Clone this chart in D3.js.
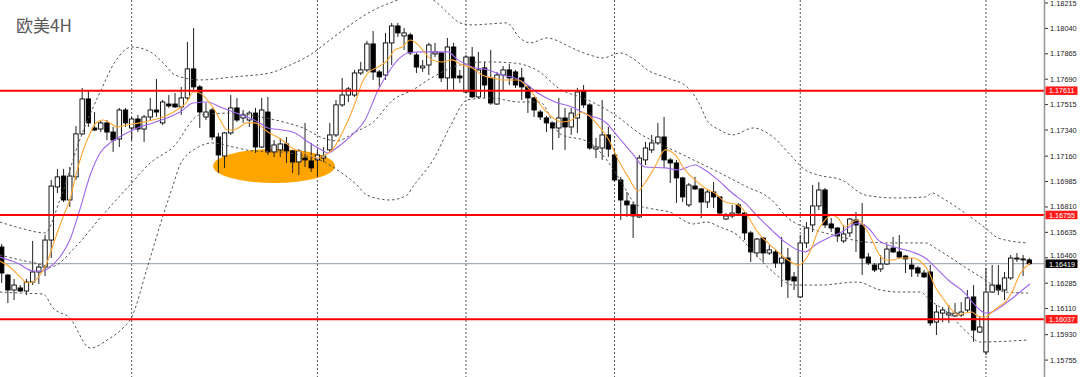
<!DOCTYPE html>
<html>
<head>
<meta charset="utf-8">
<script src="https://cdn.jsdelivr.net/npm/d3@7"></script>
<style>
  html, body { margin: 0; padding: 0; background: #fff; }
  svg { display: block; }
</style>
</head>
<body>
<svg id="chart"></svg>
<script>
// EURUSD 4H candles, bar 0 .. 166
const opens = [
  1.16534,1.16341,1.16238,1.16252,1.16231,1.16293,1.16362,1.16396,1.16582,1.16948,
  1.17023,1.16858,1.17017,1.17313,1.17554,1.17354,1.17347,1.17389,1.17326,1.17278,
  1.17478,1.17354,1.17416,1.17347,1.17430,1.17478,1.17389,1.17519,1.17519,1.17499,
  1.17561,1.17761,1.17637,1.17430,1.17478,1.17292,1.17161,1.17320,1.17492,1.17423,
  1.17409,1.17457,1.17223,1.17464,1.17189,1.17203,1.17244,1.17196,1.17120,1.17147,
  1.17127,1.17134,1.17147,1.17203,1.17306,1.17513,1.17581,1.17581,1.17733,1.17754,
  1.17933,1.17740,1.17719,1.17940,1.18057,1.17988,1.17995,1.17857,1.17768,1.17788,
  1.17864,1.17871,1.17699,1.17912,1.17712,1.17602,1.17843,1.17568,1.17768,1.17699,
  1.17519,1.17719,1.17754,1.17740,1.17699,1.17637,1.17561,1.17464,1.17423,1.17389,
  1.17354,1.17423,1.17361,1.17423,1.17609,1.17513,1.17209,1.17216,1.17306,1.17168,
  1.16996,1.16851,1.16824,1.16741,1.17134,1.17203,1.17251,1.17292,1.17134,1.17113,
  1.17010,1.16824,1.16954,1.16934,1.16844,1.16913,1.16879,1.16727,1.16748,1.16824,
  1.16768,1.16631,1.16493,1.16596,1.16493,1.16500,1.16424,1.16458,1.16328,1.16190,
  1.16562,1.16686,1.16817,1.16927,1.16693,1.16665,1.16576,1.16631,1.16720,1.16686,
  1.16465,1.16410,1.16383,1.16417,1.16527,1.16500,1.16472,1.16410,1.16390,1.16355,
  1.16362,1.16017,1.16079,1.16066,1.16059,1.16066,1.16100,1.16190,1.15948,1.15811,
  1.16224,1.16272,1.16238,1.16321,1.16452,1.16445,1.16445
];
const highs = [
  1.16555,1.16348,1.16314,1.16272,1.16314,1.16576,1.16417,1.16617,1.16996,1.17072,
  1.17072,1.17085,1.17368,1.17630,1.17616,1.17464,1.17402,1.17409,1.17361,1.17492,
  1.17492,1.17430,1.17444,1.17444,1.17561,1.17692,1.17547,1.17581,1.17595,1.17637,
  1.17947,1.18043,1.17650,1.17526,1.17492,1.17320,1.17326,1.17581,1.17561,1.17478,
  1.17471,1.17492,1.17561,1.17568,1.17271,1.17285,1.17292,1.17203,1.17209,1.17389,
  1.17251,1.17203,1.17223,1.17389,1.17547,1.17699,1.17637,1.17754,1.17809,1.17954,
  1.18022,1.17754,1.18009,1.18078,1.18078,1.18043,1.18009,1.17871,1.17823,1.17940,
  1.17940,1.17878,1.17974,1.17940,1.17754,1.17857,1.17912,1.17878,1.17809,1.17892,
  1.17740,1.17781,1.17795,1.17754,1.17768,1.17650,1.17568,1.17478,1.17437,1.17395,
  1.17561,1.17492,1.17492,1.17630,1.17650,1.17526,1.17285,1.17547,1.17361,1.17203,
  1.17017,1.16913,1.16844,1.17168,1.17258,1.17306,1.17389,1.17430,1.17147,1.17134,
  1.17017,1.16975,1.17017,1.16941,1.16927,1.16982,1.16879,1.16768,1.16824,1.16837,
  1.16775,1.16644,1.16596,1.16603,1.16548,1.16514,1.16603,1.16527,1.16362,1.16617,
  1.16706,1.16961,1.16982,1.16941,1.16734,1.16672,1.16686,1.16734,1.16775,1.16837,
  1.16493,1.16424,1.16479,1.16548,1.16603,1.16617,1.16479,1.16458,1.16403,1.16376,
  1.16410,1.16135,1.16121,1.16135,1.16148,1.16155,1.16238,1.16272,1.16052,1.16390,
  1.16410,1.16410,1.16362,1.16479,1.16493,1.16479,1.16458
];
const lows = [
  1.16286,1.16148,1.16169,1.16224,1.16203,1.16272,1.16279,1.16334,1.16458,1.16906,
  1.16844,1.16810,1.16996,1.17306,1.17361,1.17333,1.17326,1.17271,1.17189,1.17223,
  1.17361,1.17271,1.17326,1.17258,1.17409,1.17430,1.17375,1.17492,1.17492,1.17444,
  1.17547,1.17616,1.17354,1.17409,1.17271,1.17044,1.17079,1.17306,1.17395,1.17389,
  1.17361,1.17182,1.17216,1.17168,1.17154,1.17154,1.17113,1.17044,1.17030,1.17085,
  1.17051,1.17017,1.17120,1.17189,1.17292,1.17499,1.17533,1.17568,1.17719,1.17740,
  1.17685,1.17637,1.17685,1.17788,1.17981,1.17892,1.17857,1.17733,1.17740,1.17719,
  1.17843,1.17671,1.17616,1.17616,1.17664,1.17595,1.17561,1.17561,1.17561,1.17513,
  1.17513,1.17616,1.17650,1.17630,1.17547,1.17457,1.17430,1.17409,1.17326,1.17203,
  1.17285,1.17203,1.17306,1.17320,1.17492,1.17203,1.17147,1.17134,1.17154,1.16982,
  1.16720,1.16741,1.16596,1.16734,1.17099,1.17182,1.17237,1.17079,1.16975,1.16837,
  1.16844,1.16810,1.16927,1.16734,1.16803,1.16803,1.16755,1.16720,1.16734,1.16748,
  1.16582,1.16431,1.16465,1.16431,1.16479,1.16390,1.16259,1.16183,1.16238,1.16183,
  1.16527,1.16637,1.16789,1.16665,1.16637,1.16569,1.16562,1.16603,1.16500,1.16341,
  1.16410,1.16362,1.16362,1.16410,1.16493,1.16458,1.16355,1.16328,1.16328,1.16321,
  1.15990,1.15928,1.16017,1.16011,1.16052,1.16052,1.16086,1.15880,1.15942,1.15790,
  1.16217,1.16203,1.16169,1.16307,1.16431,1.16334,1.16410
];
const closes = [
  1.16355,1.16238,1.16272,1.16231,1.16293,1.16362,1.16396,1.16582,1.16954,1.17017,
  1.16858,1.17023,1.17313,1.17554,1.17389,1.17340,1.17389,1.17326,1.17271,1.17478,
  1.17389,1.17416,1.17347,1.17430,1.17478,1.17464,1.17533,1.17506,1.17499,1.17561,
  1.17761,1.17637,1.17464,1.17464,1.17292,1.17168,1.17320,1.17492,1.17409,1.17444,
  1.17457,1.17223,1.17478,1.17189,1.17237,1.17244,1.17196,1.17120,1.17196,1.17134,
  1.17079,1.17168,1.17161,1.17306,1.17513,1.17581,1.17623,1.17733,1.17754,1.17933,
  1.17740,1.17706,1.17940,1.18057,1.18009,1.18009,1.17871,1.17774,1.17781,1.17926,
  1.17878,1.17699,1.17912,1.17699,1.17699,1.17843,1.17568,1.17754,1.17650,1.17526,
  1.17719,1.17754,1.17699,1.17650,1.17637,1.17561,1.17478,1.17430,1.17389,1.17354,
  1.17423,1.17361,1.17457,1.17602,1.17513,1.17216,1.17223,1.17306,1.17209,1.16996,
  1.16858,1.16824,1.16748,1.17147,1.17216,1.17251,1.17292,1.17134,1.17113,1.17010,
  1.16879,1.16961,1.16934,1.16844,1.16913,1.16879,1.16768,1.16748,1.16768,1.16768,
  1.16631,1.16500,1.16589,1.16493,1.16514,1.16424,1.16458,1.16307,1.16300,1.16562,
  1.16665,1.16817,1.16927,1.16686,1.16665,1.16610,1.16624,1.16727,1.16686,1.16458,
  1.16424,1.16376,1.16417,1.16520,1.16500,1.16465,1.16452,1.16383,1.16355,1.16328,
  1.16011,1.16086,1.16100,1.16079,1.16079,1.16086,1.16183,1.15962,1.15983,1.16224,
  1.16272,1.16238,1.16321,1.16458,1.16458,1.16452,1.16419
];

// Bollinger bands [bar, price]
const bandUpper = [
  [-0.3,1.16706],[3,1.16665],[7,1.16631],[9.4,1.16858],[12.6,1.17271],[15.9,1.17602],
  [18.3,1.17809],[21,1.17912],[24,1.17878],[26.4,1.17788],[28,1.17719],[32,1.17685],
  [37.4,1.17706],[43.3,1.17733],[46.6,1.17788],[49.8,1.17857],[53,1.17960],[56.3,1.18064],
  [59.5,1.18153],[62.7,1.18215],[67.3,1.18270],[69.7,1.18236],[72.4,1.18133],[74,1.18078],
  [76.1,1.18064],[78.9,1.18071],[81.6,1.18078],[83.7,1.17974],[85.4,1.17940],[88.1,1.17974],
  [90.2,1.17947],[91.8,1.17912],[95,1.17857],[97.1,1.17836],[99.9,1.17871],[102.3,1.17823],
  [104.3,1.17754],[107.5,1.17699],[110.7,1.17637],[112.8,1.17513],[113.9,1.17409],[116,1.17340],
  [118.1,1.17306],[121.4,1.17354],[124.6,1.17292],[127.4,1.17168],[129.8,1.17065],[131.9,1.17030],
  [135.7,1.16996],[139.5,1.16892],[144.3,1.16872],[149.2,1.16879],[150.3,1.16906],[151.9,1.16872],
  [155.6,1.16768],[158.9,1.16665],[161,1.16596],[165.6,1.16562]
];
const bandMiddle = [
  [-0.3,1.16479],[3,1.16445],[6.7,1.16410],[7.8,1.16396],[12.2,1.16548],[15.9,1.16734],
  [20.7,1.16961],[24,1.17113],[27.7,1.17223],[32,1.17444],[37.4,1.17457],[41.7,1.17430],
  [46.1,1.17389],[48.7,1.17354],[51.9,1.17285],[54.2,1.17265],[57.1,1.17326],[60,1.17395],
  [63.2,1.17547],[66.4,1.17616],[69.7,1.17706],[74,1.17788],[78.4,1.17809],[82.6,1.17802],
  [86.9,1.17740],[89.9,1.17630],[94.7,1.17547],[99.1,1.17444],[103.4,1.17306],[106.7,1.17237],
  [110.1,1.17168],[115.7,1.17051],[120.1,1.16954],[124.4,1.16858],[127,1.16734],[131.4,1.16651],
  [135,1.16610],[139.5,1.16569],[144.3,1.16562],[149.2,1.16562],[151.3,1.16514],[155.6,1.16396],
  [158.9,1.16307],[162.1,1.16224],[165.8,1.16217]
];
const bandLower = [
  [-0.3,1.16224],[3,1.16217],[6.7,1.16210],[8.3,1.16114],[11,1.16045],[14.3,1.15838],
  [17.5,1.15907],[19.6,1.15976],[21,1.16052],[23.5,1.16390],[26.1,1.16755],[27.7,1.16961],
  [28.8,1.17099],[31.5,1.17216],[34.1,1.17251],[37.4,1.17223],[40.6,1.17196],[45,1.17189],
  [48.2,1.17168],[51.4,1.17134],[54.7,1.17051],[57.4,1.16961],[59,1.16892],[62.7,1.16858],
  [65.5,1.16892],[66.4,1.16948],[69.7,1.17134],[72.4,1.17361],[75.2,1.17547],[78.9,1.17561],
  [83.7,1.17533],[86.9,1.17533],[90.2,1.17313],[94.7,1.17258],[97.1,1.17168],[99.9,1.16996],
  [102.6,1.16824],[105.2,1.16796],[107.9,1.16775],[111.7,1.16693],[113.9,1.16706],[116,1.16672],
  [118.8,1.16617],[121.4,1.16500],[124.6,1.16362],[127.8,1.16272],[132.2,1.16272],[138.2,1.16293],
  [141.9,1.16238],[145.1,1.16224],[148.4,1.16224],[149.9,1.16169],[152.7,1.16086],[155.9,1.15948],
  [158,1.15880],[165.6,1.15893]
];

// fast (orange) and slow (purple) moving averages [bar, price]
const maFast = [
  [-0.3,1.16438],[1.3,1.16396],[3,1.16328],[4.1,1.16286],[5.1,1.16293],[6.2,1.16341],
  [7.3,1.16424],[8.3,1.16548],[9.9,1.16741],[11,1.16858],[12.2,1.17065],[13.8,1.17271],
  [15.4,1.17395],[16.4,1.17409],[17.5,1.17389],[18.6,1.17361],[20.2,1.17375],[22.3,1.17389],
  [24.4,1.17409],[26.1,1.17430],[28.3,1.17478],[29.9,1.17533],[30.9,1.17602],[32,1.17595],
  [33.2,1.17547],[34.1,1.17499],[35.3,1.17409],[36.4,1.17340],[37.4,1.17340],[38.5,1.17361],
  [39.6,1.17389],[40.9,1.17389],[43,1.17326],[45.3,1.17271],[46.9,1.17216],[49,1.17182],
  [51.1,1.17147],[52.2,1.17168],[53.4,1.17203],[55,1.17320],[57.1,1.17526],[58.2,1.17664],
  [59.2,1.17733],[60.8,1.17774],[62.4,1.17823],[63.5,1.17892],[64.7,1.17912],[66,1.17960],
  [67.3,1.17926],[68.4,1.17871],[69.5,1.17823],[71.1,1.17809],[72.7,1.17823],[74.4,1.17788],
  [76,1.17768],[77.6,1.17719],[79.2,1.17699],[80.8,1.17685],[83.4,1.17685],[85.7,1.17595],
  [87.3,1.17499],[88.9,1.17430],[90.5,1.17395],[92.1,1.17409],[93.7,1.17464],[94.7,1.17444],
  [96.3,1.17375],[97.9,1.17285],[99.6,1.17134],[101.2,1.17017],[102.8,1.16920],[103.9,1.16975],
  [105.5,1.17085],[107.2,1.17203],[108.8,1.17168],[110.4,1.17065],[112,1.16996],[113.6,1.16941],
  [115.2,1.16906],[116.9,1.16844],[119,1.16824],[120.6,1.16741],[122.2,1.16631],[123.8,1.16562],
  [125.4,1.16500],[127,1.16445],[128.6,1.16410],[129.8,1.16445],[130.9,1.16534],[131.9,1.16651],
  [133,1.16720],[134.1,1.16755],[135.1,1.16734],[136.2,1.16672],[137.4,1.16706],[138.3,1.16720],
  [139.5,1.16665],[140.6,1.16582],[141.6,1.16493],[142.7,1.16445],[143.8,1.16445],[145.4,1.16458],
  [147.1,1.16458],[148.7,1.16424],[149.6,1.16376],[150.8,1.16259],[151.9,1.16190],[153.5,1.16100],
  [154.5,1.16066],[155.6,1.16079],[156.7,1.16086],[157.7,1.16059],[158.9,1.16052],[160,1.16086],
  [161,1.16121],[162.1,1.16155],[163.2,1.16224],[164.5,1.16348],[166.1,1.16424]
];
const maSlow = [
  [-0.3,1.16465],[2.5,1.16424],[5.1,1.16369],[6.7,1.16369],[7.8,1.16396],[9.4,1.16465],
  [11,1.16582],[12.6,1.16789],[14.3,1.17030],[15.9,1.17182],[17.5,1.17251],[19.6,1.17306],
  [22.3,1.17361],[24.4,1.17389],[26.7,1.17423],[28.8,1.17464],[30.9,1.17526],[33.2,1.17533],
  [35.3,1.17499],[37.4,1.17464],[39.6,1.17430],[41.7,1.17389],[43,1.17354],[45.3,1.17340],
  [47.4,1.17320],[49.5,1.17258],[51.7,1.17203],[52.7,1.17182],[54.3,1.17223],[56.6,1.17306],
  [58.7,1.17409],[60.8,1.17616],[62.4,1.17733],[64,1.17823],[65.6,1.17871],[67.9,1.17878],
  [70,1.17878],[72.1,1.17878],[73.7,1.17823],[76,1.17774],[78.6,1.17754],[80.8,1.17719],
  [82.9,1.17699],[84.5,1.17664],[86.6,1.17595],[89.4,1.17533],[92.1,1.17499],[94.7,1.17444],
  [97.5,1.17395],[99.6,1.17292],[101.8,1.17182],[103.9,1.17085],[107.2,1.17079],[109.3,1.17065],
  [112,1.17099],[113.6,1.17065],[115.7,1.16996],[118,1.16906],[120.1,1.16837],[122.2,1.16741],
  [124.4,1.16651],[126.5,1.16569],[128.6,1.16514],[129.8,1.16500],[131.4,1.16548],[133.5,1.16596],
  [135.7,1.16637],[137.4,1.16686],[138.3,1.16699],[140,1.16665],[141.6,1.16582],[143.2,1.16548],
  [144.8,1.16527],[147.1,1.16500],[149.2,1.16458],[150.8,1.16396],[152.9,1.16307],[155.6,1.16217],
  [157.2,1.16135],[158.9,1.16079],[160,1.16086],[161.6,1.16128],[162.9,1.16169],[164.5,1.16224],
  [166.1,1.16279]
];

const levels = [1.17611, 1.16755, 1.16037];
const lastPrice = 1.16419;
const gridBars = [21, 51, 75, 99, 129, 159];
const tickValues = [1.18215, 1.18040, 1.17865, 1.17690, 1.17515, 1.17340, 1.17160, 1.16985,
  1.16810, 1.16635, 1.16460, 1.16285, 1.16110, 1.15930, 1.15755];
const tickLabels = ['1.18215', '1.18040', '1.17865', '1.17690', '1.17515', '1.17340', '1.17160', '1.16985',
  '1.16810', '1.16635', '1.16460', '1.16285', '1.16110', '1.15930', '1.15755'];
// highlighted zone: centre bar/price and half sizes
const zone = { bar: 44, price: 1.17092, halfBars: 9.85, halfPrice: 0.00117 };
const title = '欧美4H';

const W = 1080, H = 377, axisX = 1044;
const svg = d3.select('#chart').attr('width', W).attr('height', H);
svg.append('rect').attr('width', W).attr('height', H).attr('fill', '#fff');

const x = d3.scaleLinear().domain([0, 166]).range([1.7, 1029.3]);
const y = d3.scaleLinear().domain([1.18215, 1.15755]).range([3, 360.1]);

svg.append('clipPath').attr('id', 'plot')
  .append('rect').attr('x', 0).attr('y', 0).attr('width', axisX).attr('height', H);
const plot = svg.append('g').attr('clip-path', 'url(#plot)');

// vertical grid
plot.selectAll('line.grid').data(gridBars).enter().append('line')
  .attr('class', 'grid')
  .attr('x1', d => x(d)).attr('x2', d => x(d))
  .attr('y1', 0).attr('y2', H)
  .attr('stroke', '#555').attr('stroke-width', 1).attr('stroke-dasharray', '2,2');

// orange highlight
plot.append('ellipse')
  .attr('cx', x(zone.bar))
  .attr('cy', y(zone.price))
  .attr('rx', x(zone.halfBars) - x(0))
  .attr('ry', y(zone.price - zone.halfPrice) - y(zone.price))
  .attr('fill', '#ffa500');

// current price line
plot.append('line')
  .attr('x1', 0).attr('x2', axisX)
  .attr('y1', y(lastPrice)).attr('y2', y(lastPrice))
  .attr('stroke', '#8f9ba8').attr('stroke-width', 1);

// candles
const bars = d3.range(opens.length).map(i => ({
  i: i, o: opens[i], h: highs[i], l: lows[i], c: closes[i]
}));
const bodyW = 4.4;
const candle = plot.selectAll('g.candle').data(bars).enter().append('g').attr('class', 'candle');
candle.append('line')
  .attr('x1', d => x(d.i)).attr('x2', d => x(d.i))
  .attr('y1', d => y(d.h)).attr('y2', d => y(d.l))
  .attr('stroke', '#222').attr('stroke-width', 1);
candle.append('rect')
  .attr('x', d => x(d.i) - bodyW / 2)
  .attr('width', bodyW)
  .attr('y', d => y(Math.max(d.o, d.c)))
  .attr('height', d => Math.max(1, Math.abs(y(d.o) - y(d.c))))
  .attr('fill', d => d.c >= d.o ? '#fff' : '#000')
  .attr('stroke', '#000')
  .attr('stroke-width', 0.9);

// bands and averages
const line = d3.line().x(d => x(d[0])).y(d => y(d[1])).curve(d3.curveMonotoneX);
[bandUpper, bandMiddle, bandLower].forEach(b => {
  plot.append('path').attr('d', line(b))
    .attr('fill', 'none').attr('stroke', '#555')
    .attr('stroke-width', 1).attr('stroke-dasharray', '2.5,2.5');
});
plot.append('path').attr('d', line(maSlow))
  .attr('fill', 'none').attr('stroke', '#a066ee').attr('stroke-width', 1.1);
plot.append('path').attr('d', line(maFast))
  .attr('fill', 'none').attr('stroke', '#ffa733').attr('stroke-width', 1.1);

// horizontal levels
plot.selectAll('line.level').data(levels).enter().append('line')
  .attr('class', 'level')
  .attr('x1', 0).attr('x2', axisX)
  .attr('y1', d => y(d)).attr('y2', d => y(d))
  .attr('stroke', '#ff0000').attr('stroke-width', 2);

// title
svg.append('text')
  .attr('x', 16).attr('y', 32)
  .attr('font-family', '"Noto Sans CJK SC", "Noto Sans", sans-serif')
  .attr('font-size', 17)
  .attr('fill', '#5a5a5a')
  .text(title);

// price axis
svg.append('line')
  .attr('x1', axisX + 0.5).attr('x2', axisX + 0.5)
  .attr('y1', 0).attr('y2', H)
  .attr('stroke', '#9a9a9a').attr('stroke-width', 1.6);

const tagH = 8.5;
const tagVals = levels.concat([lastPrice]);
const ticks = svg.append('g');
tickValues.forEach((v, k) => {
  // lift a label a little if a price tag sits right under it
  let ty = y(v);
  tagVals.forEach(t => {
    const top = y(t) - tagH / 2;
    if (ty < y(t) && ty + 4.5 > top) ty = top - 4.5;
  });
  ticks.append('line')
    .attr('x1', axisX + 1).attr('x2', axisX + 4)
    .attr('y1', y(v)).attr('y2', y(v))
    .attr('stroke', '#333').attr('stroke-width', 1);
  ticks.append('text')
    .attr('x', axisX + 6).attr('y', ty).attr('dy', '0.35em')
    .attr('font-family', '"Liberation Sans", Arial, sans-serif')
    .attr('font-size', 7.4).attr('fill', '#222')
    .text(tickLabels[k]);
});

// level and price tags on the axis
const tags = levels.map(v => ({ v: v, fill: '#ff1a1a' }))
  .concat([{ v: lastPrice, fill: '#000' }]);
tags.forEach(t => {
  svg.append('rect')
    .attr('x', axisX + 1.5).attr('y', y(t.v) - tagH / 2)
    .attr('width', 32).attr('height', tagH)
    .attr('fill', t.fill);
  svg.append('text')
    .attr('x', axisX + 5).attr('y', y(t.v) + 0.3).attr('dy', '0.35em')
    .attr('font-family', '"Liberation Sans", Arial, sans-serif')
    .attr('font-size', 7.2).attr('fill', '#fff')
    .text(t.v.toFixed(5));
});
</script>
</body>
</html>
